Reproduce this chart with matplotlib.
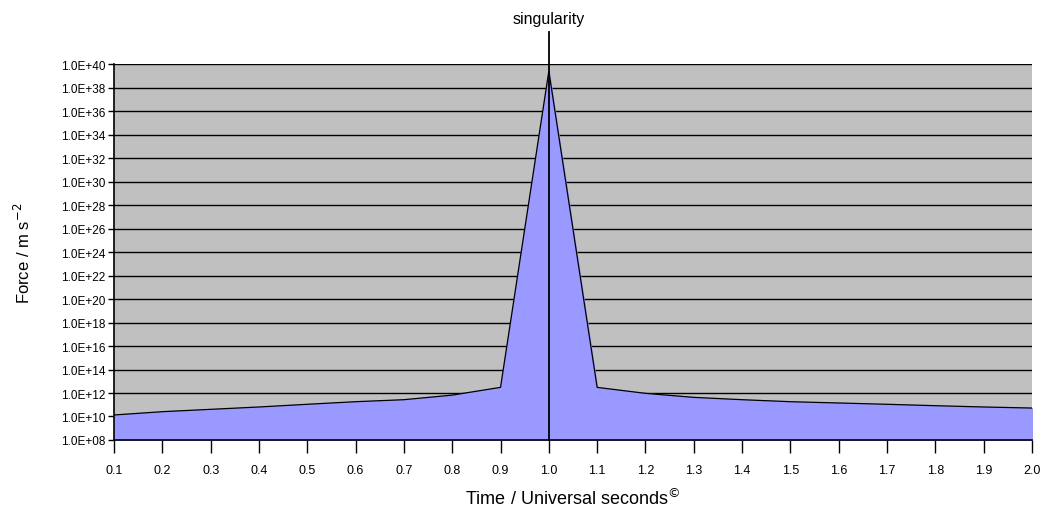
import matplotlib.pyplot as plt
import numpy as np

plt.rcParams['font.family'] = ['Liberation Sans', 'DejaVu Sans']

# Zeitpunkte und Kraft (als Exponent zur Basis 10)
time = [0.1, 0.2, 0.3, 0.4, 0.5, 0.6, 0.7, 0.8, 0.9, 1.0,
        1.1, 1.2, 1.3, 1.4, 1.5, 1.6, 1.7, 1.8, 1.9, 2.0]
force_exp = [10.13, 10.41, 10.61, 10.81, 11.04, 11.26, 11.43, 11.82, 12.48, 39.4,
             12.48, 11.97, 11.63, 11.43, 11.26, 11.15, 11.04, 10.92, 10.81, 10.72]
y_ticks_exp = list(range(8, 41, 2))
x_ticks = time

force = [10.0 ** e for e in force_exp]
y_ticks = [10.0 ** e for e in y_ticks_exp]
y_labels = ["1.0E+%02d" % e for e in y_ticks_exp]
x_labels = ["%.1f" % t for t in x_ticks]

fig = plt.figure(figsize=(10.53, 5.10), dpi=100)
ax = fig.add_axes([0.1083, 0.1353, 0.8717, 0.7372])

ax.set_facecolor('#C0C0C0')
ax.set_yscale('log')
ax.set_xlim(0.1, 2.0)
ax.set_ylim(1e8, 1e40)

for yt in y_ticks[1:]:
    ax.axhline(yt, color='black', linewidth=1.0, zorder=1)

ax.fill_between(time, 1e8, force, color='#9999FF', zorder=2)
ax.plot(time, force, color='black', linewidth=0.9, zorder=3)

# Singularität
ax.axvline(1.0, ymin=0, ymax=1.085, color='black', linewidth=1.3,
           clip_on=False, zorder=4)
ax.text(1.0, 1.122, 'singularity', transform=ax.get_xaxis_transform(),
        ha='center', va='center', fontsize=11.5)

ax.set_yticks(y_ticks)
ax.set_yticklabels(y_labels, fontsize=8.5)
ax.yaxis.set_minor_locator(plt.NullLocator())
ax.set_xticks(x_ticks)
ax.set_xticklabels(x_labels, fontsize=9)
ax.tick_params(axis='x', direction='out', length=9, width=1, pad=8)
ax.tick_params(axis='y', direction='out', length=4, width=1, pad=2)

for s in ['top', 'right']:
    ax.spines[s].set_visible(False)
ax.spines['left'].set_linewidth(1.2)
ax.spines['bottom'].set_linewidth(1.2)

ax.set_xlabel('Time / Universal seconds$^{\u00a9}$', fontsize=13, labelpad=8)
ax.set_ylabel('Force / m s$^{-2}$', fontsize=12, labelpad=20)

fig.savefig('out.png', dpi=100)
